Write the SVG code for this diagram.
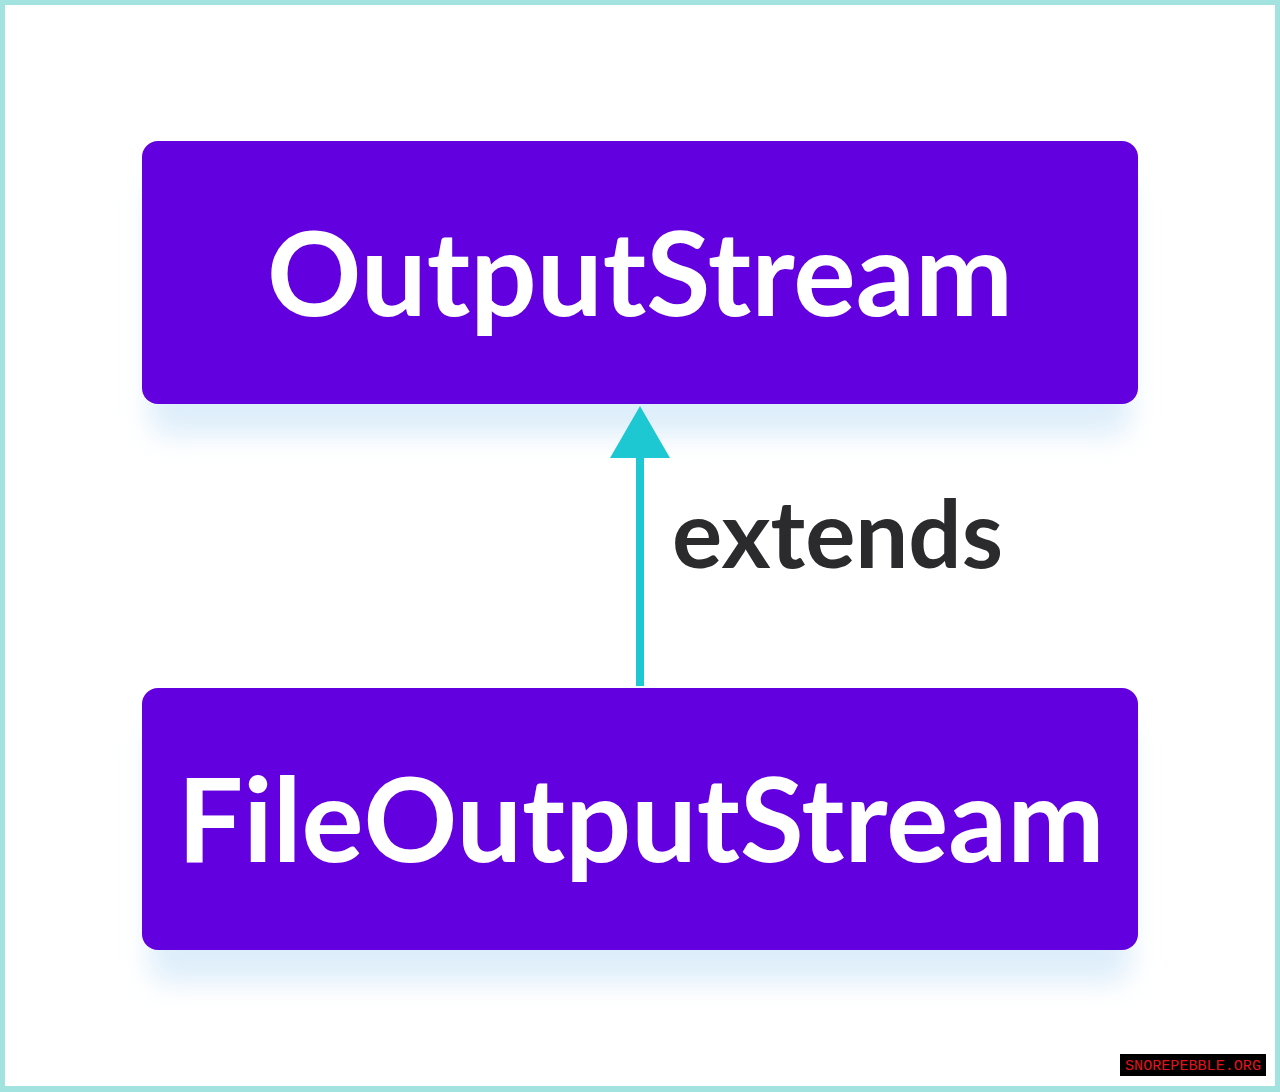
<svg xmlns="http://www.w3.org/2000/svg" width="1280" height="1092" viewBox="0 0 1280 1092">
<defs>
<style>
.box{fill:#6300e0}
.lbl{font-family:Lato,"Liberation Sans",sans-serif;font-weight:700;fill:#ffffff;text-anchor:middle}
.edge{font-family:Lato,"Liberation Sans",sans-serif;font-weight:700;fill:#2b2b2e}
</style>
<filter id="sh" x="-10%" y="-20%" width="120%" height="160%">
<feGaussianBlur stdDeviation="14"/>
</filter>
</defs>
<rect x="0" y="0" width="1280" height="1092" fill="#a3e3df"/>
<rect x="5" y="5" width="1270" height="1081" fill="#ffffff"/>
<g id="shadows">
<rect x="150" y="180" width="980" height="255" rx="16" fill="#cfe6f8" opacity="0.7" filter="url(#sh)"/>
<rect x="150" y="727" width="980" height="255" rx="16" fill="#cfe6f8" opacity="0.7" filter="url(#sh)"/>
</g>
<g id="connectors">
<line x1="640" y1="686" x2="640" y2="458" stroke="#1ec8d2" stroke-width="8"/>
<path d="M610,458 L640,406 L670,458 Z" fill="#1ec8d2"/>
<text class="edge" x="672" y="568" font-size="94">extends</text>
</g>
<g id="node-outputstream">
<rect class="box" x="142" y="141" width="996" height="263" rx="16"/>
<text class="lbl" x="640" y="316" font-size="117">OutputStream</text>
</g>
<g id="node-fileoutputstream">
<rect class="box" x="142" y="688" width="996" height="262" rx="16"/>
<text class="lbl" x="641" y="862" font-size="117" textLength="927" lengthAdjust="spacingAndGlyphs">FileOutputStream</text>
</g>
<g id="watermark">
<rect x="1120" y="1054" width="146" height="22" fill="#000000"/>
<text x="1193" y="1070" font-family="'Liberation Mono',monospace" font-size="15" fill="#e0141c" text-anchor="middle" textLength="136" lengthAdjust="spacingAndGlyphs">SNOREPEBBLE.ORG</text>
</g>
</svg>
